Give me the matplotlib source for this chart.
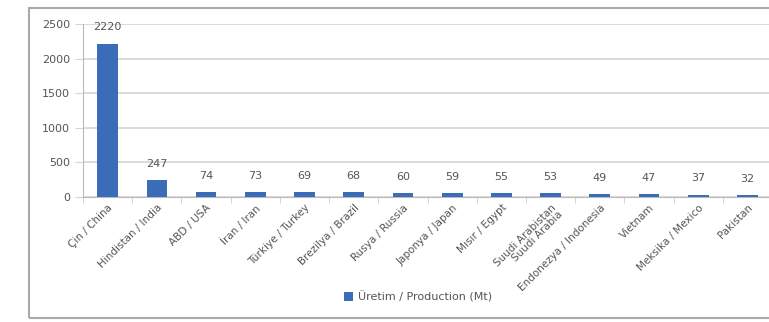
import matplotlib
matplotlib.use("Agg")
import matplotlib.pyplot as plt
import numpy as np
from matplotlib.patches import Rectangle

countries = ["Çin / China", "Hindistan / India", "ABD / USA", "İran / Iran",
             "Türkiye / Turkey", "Brezilya / Brazil", "Rusya / Russia",
             "Japonya / Japan", "Mısır / Egypt", "Suudi Arabistan\nSuudi Arabia",
             "Endonezya / Indonesia", "Vietnam", "Meksika / Mexico", "Pakistan"]
production = [2220, 247, 74, 73, 69, 68, 60, 59, 55, 53, 49, 47, 37, 32]
yticks = [0, 500, 1000, 1500, 2000, 2500]

plt.rcParams.update({"font.family": "DejaVu Sans", "font.size": 7})
grey = "#555555"
blue = "#3a6cb8"

fig = plt.figure(figsize=(7.69, 3.22), dpi=100)
ax = fig.add_axes([0.108, 0.388, 0.896, 0.537])

x = np.arange(len(countries))
ax.bar(x, production, width=0.42, color=blue, label="Üretim / Production (Mt)", zorder=3)
for xi, v in zip(x, production):
    ax.annotate(str(v), (xi, v), xytext=(0, 8), textcoords="offset points",
                ha="center", va="bottom", color=grey, fontsize=8)

ax.set_xlim(-0.5, len(countries) - 0.5)
ax.set_ylim(0, 2500)
ax.set_yticks(yticks)
ax.yaxis.grid(True, color="#d4d4d4", lw=1.2, zorder=0)
ax.tick_params(axis="y", length=6, color="#d4d4d4", labelcolor=grey, labelsize=8)
ax.set_xticks(x)
ax.set_xticklabels(countries, rotation=45, ha="right", rotation_mode="anchor",
                   color=grey, fontsize=7.5, linespacing=1.0)
ax.tick_params(axis="x", length=0, pad=4)
ax.set_xticks(np.arange(-0.5, len(countries)), minor=True)
ax.tick_params(axis="x", which="minor", length=4, color="#cccccc")
for s in ["top", "right"]:
    ax.spines[s].set_visible(False)
ax.spines["left"].set_color("#bbbbbb")
ax.spines["bottom"].set_color("#bbbbbb")

fig.legend(loc="center", bbox_to_anchor=(0.544, 0.078), frameon=False,
           handlelength=0.8, handleheight=0.8, handletextpad=0.5,
           fontsize=8, labelcolor=grey)

fig.patches.append(Rectangle((29 / 769, 4 / 322), 1.0, 310 / 322,
                             transform=fig.transFigure, fill=False,
                             edgecolor="#aaaaaa", lw=1.5))

fig.savefig("out.png", dpi=100)
